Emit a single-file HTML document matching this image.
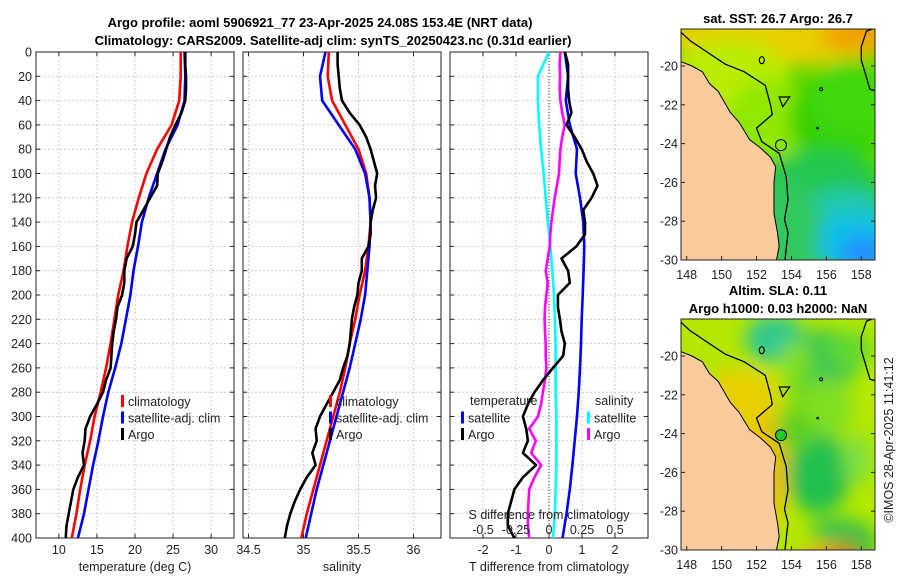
<!DOCTYPE html>
<html><head><meta charset="utf-8"><style>
html,body{margin:0;padding:0;background:#fff}
svg{display:block;font-family:"Liberation Sans","DejaVu Sans",sans-serif}
.t{font-size:12.5px;fill:#222}
.h{font-size:13px;font-weight:bold;fill:#000}
</style></head><body>
<svg id="fig" width="900" height="580" viewBox="0 0 900 580">
<defs>
<filter id="bl" x="-20%" y="-20%" width="140%" height="140%"><feGaussianBlur stdDeviation="9"/></filter>
<clipPath id="c1"><rect x="681" y="29" width="194" height="231"/></clipPath>
<clipPath id="c2"><rect x="681" y="319" width="194" height="231"/></clipPath>
</defs>
<text class="h" x="320" y="27" text-anchor="middle">Argo profile: aoml 5906921_77 23-Apr-2025 24.08S 153.4E (NRT data)</text>
<text class="h" x="333" y="45" text-anchor="middle">Climatology: CARS2009. Satellite-adj clim: synTS_20250423.nc (0.31d earlier)</text>
<g id="plots"></g>
<g id="maps"></g>
<text class="t" transform="translate(893,440) rotate(-90)" text-anchor="middle">©IMOS 28-Apr-2025 11:41:12</text>
</svg>
<script>
const depths=[0,10,20,30,40,50,60,70,80,90,100,110,120,130,140,150,160,170,180,190,200,210,220,230,240,250,260,270,280,290,300,310,320,330,340,350,360,370,380,390,400];
const depths20=[0,20,40,60,80,100,120,140,160,180,200,220,240,260,280,300,320,340,360,380,400];
const tempClim=[26.0,26.0,25.8,24.8,22.9,21.5,20.5,19.6,19.0,18.5,17.8,17.3,16.8,16.2,15.5,14.7,14.1,13.4,12.8,12.3,11.7];
const tempSat=[26.5,26.6,26.5,25.6,24.0,22.9,21.8,20.9,20.4,19.8,19.4,18.8,18.2,17.4,16.5,15.8,15.2,14.5,13.9,13.3,12.5];
const tempArgo=[26.6,26.6,26.7,26.7,26.6,26.1,25.3,24.6,24.1,23.6,23.0,22.9,22.0,21.1,20.2,20.0,19.7,18.9,18.6,18.6,18.3,17.7,17.5,17.2,17.0,16.9,16.8,16.2,15.8,15.0,14.1,13.5,13.4,13.1,13.3,12.5,11.9,11.6,11.3,11.0,10.9];
const salClim=[35.23,35.22,35.26,35.38,35.50,35.57,35.60,35.61,35.59,35.56,35.51,35.47,35.42,35.38,35.33,35.27,35.21,35.15,35.09,35.03,34.98];
const salSat=[35.20,35.15,35.17,35.32,35.47,35.56,35.60,35.61,35.60,35.58,35.56,35.52,35.47,35.42,35.36,35.30,35.24,35.18,35.12,35.07,35.02];
const salArgo=[35.31,35.31,35.32,35.33,35.35,35.42,35.51,35.57,35.61,35.64,35.67,35.65,35.66,35.63,35.61,35.61,35.59,35.53,35.53,35.50,35.49,35.46,35.44,35.43,35.42,35.40,35.36,35.33,35.27,35.21,35.15,35.11,35.12,35.08,35.11,35.03,34.97,34.92,34.88,34.85,34.83];
const dTsat=[0.48,0.58,0.51,0.63,0.85,0.81,0.94,1.04,1.07,1.05,1.02,0.99,0.97,0.94,0.90,0.85,0.78,0.71,0.63,0.53,0.41];
const dTargo=[0.48,0.58,0.58,0.58,0.61,0.68,0.53,0.78,0.99,1.14,1.34,1.47,1.29,1.04,1.09,1.09,0.83,0.38,0.58,0.63,0.27,0.27,0.33,0.38,0.48,0.43,0.12,-0.18,-0.44,-0.64,-0.79,-0.69,-0.64,-0.79,-0.39,-0.79,-1.05,-1.15,-1.25,-1.25,-1.05];
const dSsat=[0.0,-0.084,-0.084,-0.075,-0.06,-0.04,-0.025,-0.008,0.01,0.025,0.038,0.045,0.05,0.05,0.05,0.056,0.056,0.056,0.05,0.045,0.03];
const dSargo=[0.086,0.08,0.084,0.08,0.086,0.1,0.12,0.1,0.086,0.08,0.076,0.06,0.043,0.03,0.018,0.01,0.005,-0.01,-0.025,-0.01,-0.02,-0.03,-0.033,-0.03,-0.025,-0.025,-0.02,-0.03,-0.046,-0.06,-0.084,-0.15,-0.1,-0.135,-0.06,-0.11,-0.15,-0.155,-0.16,-0.16,-0.15];
const depthTicks=[0,20,40,60,80,100,120,140,160,180,200,220,240,260,280,300,320,340,360,380,400];
const tempTicks=[10,15,20,25,30];
const salTicks=[34.5,35,35.5,36];
const dTTicks=[-2,-1,0,1,2];
const dSTicks=[-0.5,-0.25,0,0.25,0.5];
const dSLabels=["-0.5","-0.25","0","0.25","0.5"];

const NS='http://www.w3.org/2000/svg';
function mk(tag,attrs,parent){const e=document.createElementNS(NS,tag);for(const k in attrs)e.setAttribute(k,attrs[k]);parent.appendChild(e);return e;}
const plots=document.getElementById('plots');
const Y0=52,Y1=538;
const yS=d=>Y0+(d/400)*(Y1-Y0);
function lin(d0,d1,r0,r1){return v=>r0+(v-d0)/(d1-d0)*(r1-r0);}
const panels=[
 {x0:36,x1:234,sc:lin(7,33,36,234),ticks:tempTicks,title:'temperature (deg C)',name:'temperature-panel'},
 {x0:243,x1:441,sc:lin(34.45,36.25,243,441),ticks:salTicks,title:'salinity',name:'salinity-panel'},
 {x0:450,x1:648,sc:lin(-3,3,450,648),ticks:dTTicks,title:'T difference from climatology',name:'difference-panel'}
];
panels.forEach((p,i)=>{
 const g=mk('g',{},plots);
 
 
 mk('rect',{x:p.x0,y:Y0,width:p.x1-p.x0,height:Y1-Y0,fill:'#fff'},g);
 depthTicks.forEach(d=>{
  const gl=mk('line',{x1:p.x0,x2:p.x1,y1:yS(d),y2:yS(d),stroke:'#b8c4dc','stroke-width':0.8,'stroke-dasharray':'2,2'},g);
  
  
  mk('line',{x1:p.x0,x2:p.x0+4,y1:yS(d),y2:yS(d),stroke:'#222'},g);
  mk('line',{x1:p.x1,x2:p.x1-4,y1:yS(d),y2:yS(d),stroke:'#222'},g);
  if(i===0){const t=mk('text',{class:'t',x:p.x0-4,y:yS(d)+4.5,'text-anchor':'end'},g);t.textContent=d;
   }
 });
 p.ticks.forEach(v=>{
  const x=p.sc(v);
  mk('line',{x1:x,x2:x,y1:Y0,y2:Y1,stroke:'#e2b8a8','stroke-width':0.8,'stroke-dasharray':'2,2'},g);
  mk('line',{x1:x,x2:x,y1:Y1,y2:Y1-4,stroke:'#222'},g);
  mk('line',{x1:x,x2:x,y1:Y0,y2:Y0+4,stroke:'#222'},g);
  const t=mk('text',{class:'t',x:x,y:Y1+16,'text-anchor':'middle'},g);t.textContent=v;
  
 });
 mk('rect',{x:p.x0,y:Y0,width:p.x1-p.x0,height:Y1-Y0,fill:'none',stroke:'#222','stroke-width':1},g);
 const tt=mk('text',{class:'t',x:(p.x0+p.x1)/2,y:571,'text-anchor':'middle'},g);tt.textContent=p.title;
 
});
function line(xs,ds,sc,col,name){
 const pts=xs.map((v,i)=>sc(v).toFixed(1)+','+yS(ds[i]).toFixed(1)).join(' ');
 const e=mk('polyline',{points:pts,fill:'none',stroke:col,'stroke-width':2.6,'stroke-linejoin':'round'},plots);
 
 
}
const P=panels;
line(tempClim,depths20,P[0].sc,'#f00','temp-climatology-line');
line(tempSat,depths20,P[0].sc,'#00f','temp-satellite-line');
line(tempArgo,depths,P[0].sc,'#000','temp-argo-line');
line(salClim,depths20,P[1].sc,'#f00','sal-climatology-line');
line(salSat,depths20,P[1].sc,'#00f','sal-satellite-line');
line(salArgo,depths,P[1].sc,'#000','sal-argo-line');
const sS=lin(-0.75,0.75,450,648);
mk('line',{x1:P[2].sc(0),x2:P[2].sc(0),y1:Y0,y2:Y1,stroke:'#333','stroke-width':1,'stroke-dasharray':'1,2'},plots);
line(dSsat,depths20,sS,'#0ff','sdiff-satellite-line');
line(dSargo,depths,sS,'#f0f','sdiff-argo-line');
line(dTsat,depths20,P[2].sc,'#00f','tdiff-satellite-line');
line(dTargo,depths,P[2].sc,'#000','tdiff-argo-line');
{const t=mk('text',{class:'t',x:549,y:519,'text-anchor':'middle'},plots);t.textContent='S difference from climatology';
 
 dSTicks.forEach((v,i)=>{const l=mk('text',{class:'t',x:sS(v),y:534,'text-anchor':'middle'},plots);l.textContent=dSLabels[i];
 });}
function leg(x,y,col,label,name){
 const g=mk('g',{},plots);
 
 
 mk('rect',{x:x-2,y:y-6,width:3,height:12,fill:col},g);
 const t=mk('text',{class:'t',x:x+5,y:y+5},g);t.textContent=label;
}
[['climatology','#f00'],['satellite-adj. clim','#00f'],['Argo','#000']].forEach((r,i)=>leg(123,401+i*16.5,r[1],r[0],'legend-temp-'+i));
[['climatology','#f00'],['satellite-adj. clim','#00f'],['Argo','#000']].forEach((r,i)=>leg(331,401+i*16.5,r[1],r[0],'legend-sal-'+i));
{const t=mk('text',{class:'t',x:470,y:405},plots);t.textContent='temperature';
 
 const s=mk('text',{class:'t',x:595,y:405},plots);s.textContent='salinity';
 }
leg(463,417.5,'#00f','satellite','legend-dt-satellite');
leg(463,434,'#000','Argo','legend-dt-argo');
leg(589,417.5,'#0ff','satellite','legend-ds-satellite');
leg(589,434,'#f0f','Argo','legend-ds-argo');

const maps=document.getElementById('maps');
const lonTicks=[148,150,152,154,156,158];
const latTicks=[-20,-22,-24,-26,-28,-30];
const coast=[[147.6,-19.75],[148.3,-20.0],[148.9,-20.3],[149.3,-20.9],[149.8,-21.3],[150.5,-22.4],[151.0,-22.9],[151.6,-23.8],[152.2,-24.2],[152.8,-24.7],[153.1,-25.2],[153.0,-26.0],[153.0,-27.6],[153.2,-28.6],[153.3,-29.3],[153.1,-30.2],[147.6,-30.2]];
const shelf=[[147.6,-18.2],[148.2,-18.7],[150.2,-19.9],[151.3,-20.3],[152.5,-21.0],[152.8,-22.0],[152.9,-22.5],[152.0,-23.2],[152.3,-23.9],[153.3,-24.5],[153.7,-25.7],[153.8,-26.9],[153.6,-27.9],[153.8,-28.6],[153.6,-30.2]];
const east=[[158.9,-18.0],[158.3,-18.2],[158.0,-19.0],[158.0,-19.7],[158.5,-21.2],[158.9,-21.3]];
function drawMap(top,clip,title1,title2,blobs,base,name){
 const g=mk('g',{},maps);
 
 
 const X=lin(148,158,686.7,861.3), Yl=lin(-20,-30,top+37,top+231);
 const inner=mk('g',{'clip-path':'url(#'+clip+')'},g);
 mk('rect',{x:681,y:top,width:194,height:231,fill:base},inner);
 const bg=mk('g',{filter:'url(#bl)'},inner);
 blobs.forEach(b=>mk('ellipse',{cx:b[0],cy:top+b[1],rx:b[2],ry:b[3],fill:b[4]},bg));
 const toP=a=>a.map(p=>X(p[0]).toFixed(1)+','+Yl(p[1]).toFixed(1)).join(' ');
 const land=mk('polygon',{points:toP(coast),fill:'#f9ca9b',stroke:'#000','stroke-width':1},inner);
 
 mk('polyline',{points:toP(shelf),fill:'none',stroke:'#000','stroke-width':1.3},inner);
 mk('polyline',{points:toP(east),fill:'none',stroke:'#000','stroke-width':1.3},inner);
 mk('ellipse',{cx:X(152.3),cy:Yl(-19.7),rx:2.5,ry:3.5,fill:'none',stroke:'#000','stroke-width':1.2},inner);
 mk('polygon',{points:toP([[153.3,-21.6],[153.9,-21.6],[153.5,-22.1]]),fill:'none',stroke:'#000','stroke-width':1.2},inner);
 mk('circle',{cx:X(155.7),cy:Yl(-21.2),r:1.5,fill:'none',stroke:'#000'},inner);
 mk('circle',{cx:X(155.5),cy:Yl(-23.2),r:1.3,fill:'#000'},inner);
 const ac=mk('circle',{cx:X(153.4),cy:Yl(-24.08),r:5.5,fill:title2?'#22cc22':'none',stroke:'#000','stroke-width':1},inner);
 
 mk('rect',{x:681,y:top,width:194,height:231,fill:'none',stroke:'#222','stroke-width':1},g);
 lonTicks.forEach(v=>{mk('line',{x1:X(v),x2:X(v),y1:top+231,y2:top+227,stroke:'#222'},g);
  const t=mk('text',{class:'t',x:X(v),y:top+250,'text-anchor':'middle'},g);t.textContent=v;});
 latTicks.forEach(v=>{mk('line',{x1:681,x2:685,y1:Yl(v),y2:Yl(v),stroke:'#222'},g);
  mk('line',{x1:875,x2:871,y1:Yl(v),y2:Yl(v),stroke:'#222'},g);
  const t=mk('text',{class:'t',x:678,y:Yl(v)+4.5,'text-anchor':'end'},g);t.textContent=v;});
 const tt=mk('text',{class:'h',x:778,y:top-(title2?24:6),'text-anchor':'middle'},g);tt.textContent=title1;
 if(title2){const t2=mk('text',{class:'h',x:778,y:top-6,'text-anchor':'middle'},g);t2.textContent=title2;}
}
drawMap(29,'c1','sat. SST: 26.7 Argo: 26.7',null,[
 [780,8,120,30,'#e8d000'],[860,5,40,18,'#f0a000'],[730,50,60,40,'#b8ec00'],[770,90,40,40,'#90e800'],
 [835,90,45,45,'#30d000'],[850,70,40,40,'#40d810'],[820,160,60,40,'#20c850'],
 [845,200,55,40,'#20c8b0'],[855,215,40,30,'#10c0e8'],[865,225,25,18,'#2090ff'],[790,200,30,50,'#30c860']
],'#50d800','sst-map');
drawMap(319,'c2','Altim. SLA: 0.11','Argo h1000: 0.03 h2000: NaN',[
 [775,20,30,24,'#30c890'],[825,40,35,30,'#40c850'],[850,30,22,18,'#60d830'],[830,90,22,30,'#80e020'],
 [795,40,15,18,'#80e020'],[818,155,32,40,'#20c050'],[858,140,15,25,'#80e040'],[835,240,35,14,'#f0a000'],
 [850,232,18,8,'#d06000'],[840,212,30,12,'#30c050'],[865,225,12,18,'#40c040'],[765,150,22,60,'#f0c000'],
 [740,80,40,30,'#e8d000'],[795,110,20,22,'#60d020'],[800,70,15,15,'#70d820']
],'#b4e800','sla-map');
</script>
</body></html>
